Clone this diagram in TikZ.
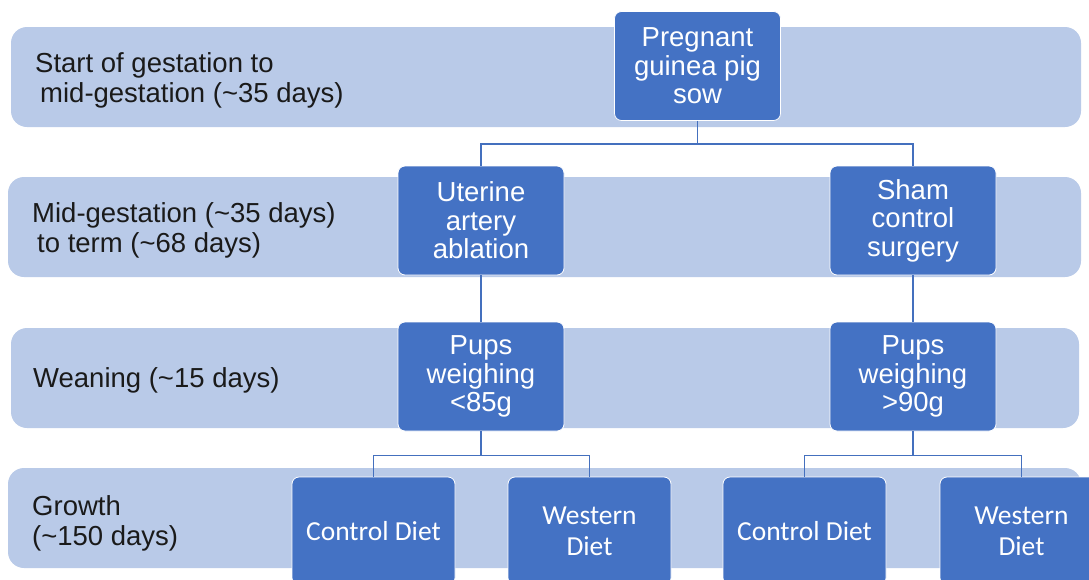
\documentclass[tikz,border=0pt]{standalone}
\usepackage{fontspec}
\setmainfont{Liberation Sans}
\newfontfamily\calib{Carlito}
\definecolor{bandfill}{HTML}{B9CAE8}
\definecolor{nodeblue}{HTML}{4472C4}
\definecolor{linkblue}{HTML}{4470BE}
\definecolor{labeltext}{HTML}{1A1A1A}
\begin{document}
\begin{tikzpicture}[x=1pt,y=-1pt,
  band/.style={fill=bandfill, draw=none, rounded corners=16pt},
  box/.style={rectangle, rounded corners=7pt, fill=nodeblue, draw=white, line width=0.8pt,
    text=white, minimum width=166pt, minimum height=109pt, inner sep=0pt, align=center,
    font=\fontsize{27.5}{28.5}\selectfont},
  diet/.style={box, minimum width=163pt, minimum height=108pt, font=\calib\fontsize{27.5}{31}\selectfont},
  lab/.style={anchor=base west, inner sep=0pt, align=left, text=labeltext,
    font=\fontsize{27.5}{30}\selectfont},
  link/.style={draw=linkblue, line width=1.5pt}]
\useasboundingbox (0,0) rectangle (1089,579);
% bands
\path[band] (11,27) rectangle (1081,127);
\path[band] (8,177) rectangle (1081,277);
\path[band] (11,328) rectangle (1079,428);
\path[band] (8,468) rectangle (1081,568);
% labels (base anchor = baseline of last line)
\node[lab] (l1) at (35,102) {Start of gestation to\\\hspace*{5pt}mid-gestation (\textasciitilde35 days)};
\node[lab] (l2) at (32,252) {Mid-gestation (\textasciitilde35 days)\\\hspace*{5pt}to term (\textasciitilde68 days)};
\node[lab] (l3) at (33,387) {Weaning (\textasciitilde15 days)};
\node[lab] (l4) at (32,545) {Growth\\(\textasciitilde150 days)};
% nodes
\node[box] (preg) at (697.5,66) {Pregnant\\guinea pig\\sow};
\node[box] (uter) at (481,220.5) {Uterine\\artery\\ablation};
\node[box] (sham) at (913,220.5) {Sham\\control\\surgery};
\node[box] (pupl) at (481,376.5) {Pups\\weighing\\<85g};
\node[box] (pupr) at (913,376.5) {Pups\\weighing\\>90g};
\node[diet] (cdl) at (373.5,531) {Control Diet};
\node[diet] (wdl) at (589.5,531) {Western\\Diet};
\node[diet] (cdr) at (804.5,531) {Control Diet};
\node[diet] (wdr) at (1021.5,531) {Western\\Diet};
% connectors
\coordinate (j1) at ([yshift=-23pt]preg.south);
\coordinate (j2) at ([yshift=-24pt]pupl.south);
\coordinate (j3) at ([yshift=-24pt]pupr.south);
\draw[link] (preg.south) -- (j1);
\draw[link] (uter.north) |- (j1) -| (sham.north);
\draw[link] (uter.south) -- (pupl.north);
\draw[link] (sham.south) -- (pupr.north);
\draw[link] (pupl.south) -- (j2);
\draw[link] (cdl.north) |- (j2) -| (wdl.north);
\draw[link] (pupr.south) -- (j3);
\draw[link] (cdr.north) |- (j3) -| (wdr.north);
\end{tikzpicture}
\end{document}
